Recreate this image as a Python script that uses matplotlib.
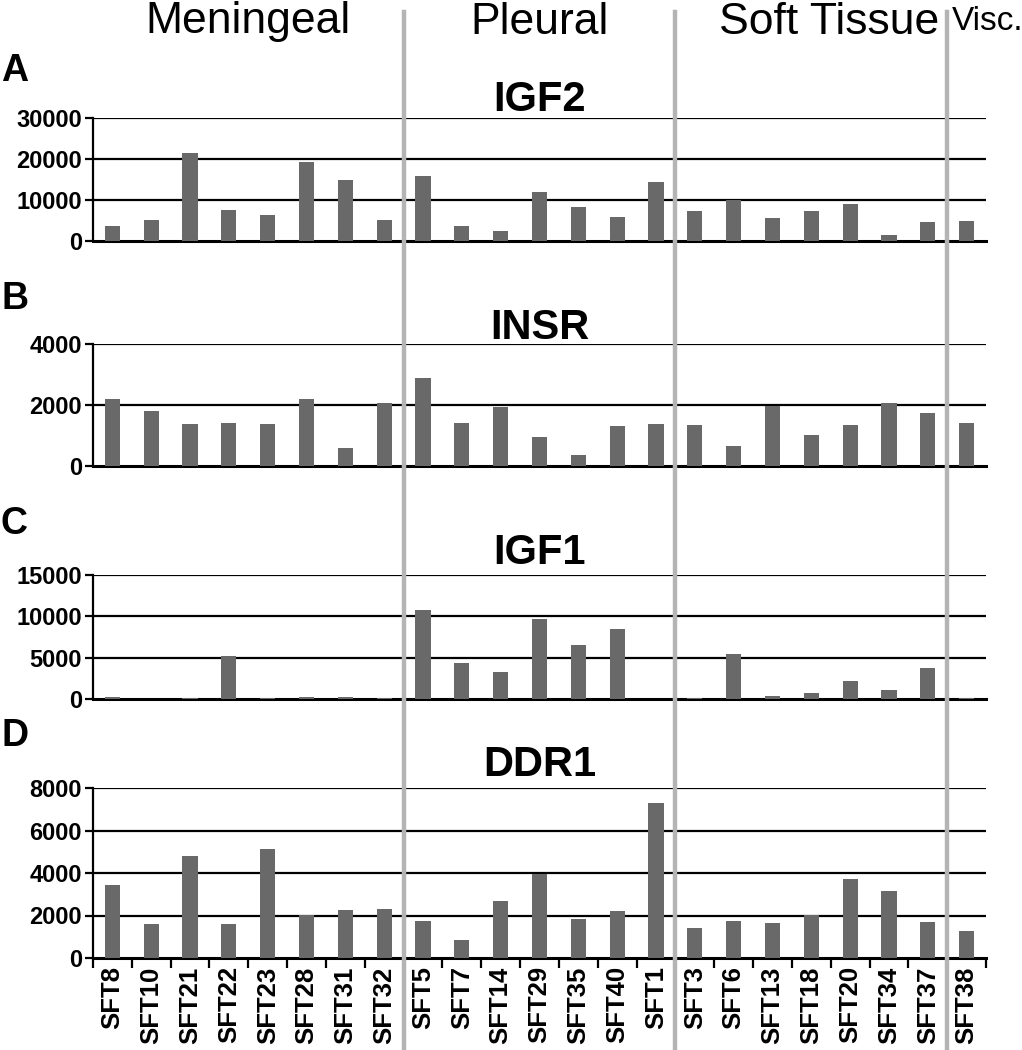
import matplotlib
matplotlib.use("Agg")
import matplotlib.pyplot as plt
from matplotlib.lines import Line2D
from matplotlib import transforms
import numpy as np

plt.rcParams['font.family'] = ['Liberation Sans', 'DejaVu Sans']

samples = ['SFT8', 'SFT10', 'SFT21', 'SFT22', 'SFT23', 'SFT28', 'SFT31', 'SFT32',
           'SFT5', 'SFT7', 'SFT14', 'SFT29', 'SFT35', 'SFT40', 'SFT1',
           'SFT3', 'SFT6', 'SFT13', 'SFT18', 'SFT20', 'SFT34', 'SFT37',
           'SFT38']
groups = ['Meningeal', 'Pleural', 'Soft Tissue', 'Visc.']
group_sizes = [8, 7, 7, 1]

igf2 = [3650, 5190, 21490, 7620, 6330, 19380, 14920, 5190,
        15900, 3730, 2350, 11920, 8350, 5840, 14270,
        7300, 9890, 5680, 7220, 9000, 1460, 4700,
        4870]
insr = [2182, 1807, 1366, 1410, 1366, 2204, 606, 2050,
        2887, 1421, 1928, 948, 375, 1311, 1366,
        1333, 672, 1961, 1003, 1344, 2072, 1741,
        1399]
igf1 = [283, 0, 120, 5175, 80, 283, 283, 80,
        10795, 4326, 3316, 9704, 6510, 8491, 0,
        100, 5459, 364, 687, 2143, 1132, 3760,
        80]
ddr1 = [3422, 1609, 4812, 1609, 5125, 2047, 2250, 2312,
        1750, 859, 2687, 3953, 1844, 2234, 7312,
        1422, 1750, 1641, 2016, 3703, 3172, 1672,
        1250]

panels = [
    ('A', 'IGF2', igf2, [0, 10000, 20000, 30000]),
    ('B', 'INSR', insr, [0, 2000, 4000]),
    ('C', 'IGF1', igf1, [0, 5000, 10000, 15000]),
    ('D', 'DDR1', ddr1, [0, 2000, 4000, 6000, 8000]),
]

W, H = 1022, 1050
fig = plt.figure(figsize=(W / 100, H / 100), dpi=100)

# axes boxes in pixels: (top, bottom)
boxes = [(118, 241), (344, 466), (575, 699), (788, 958)]
title_y = [100, 328, 553, 765]
letter_y = [71, 299, 524, 736]
left_px, right_px = 93, 986

x = np.arange(len(samples))
axes = []
for (letter, name, vals, ticks), (top, bot), ty, ly in zip(panels, boxes, title_y, letter_y):
    ax = fig.add_axes([left_px / W, 1 - bot / H, (right_px - left_px) / W, (bot - top) / H])
    ax.bar(x, vals, width=0.39, color='#696969', zorder=3)
    ax.set_xlim(-0.5, len(samples) - 0.5)
    ax.set_ylim(0, ticks[-1])
    ax.set_yticks(ticks)
    ax.set_yticklabels([str(t) for t in ticks], fontsize=17, fontweight='bold')
    for t in ticks[1:]:
        ax.axhline(t, color='black', lw=1.6, zorder=2)
    ax.spines['top'].set_visible(False)
    ax.spines['right'].set_visible(False)
    ax.spines['left'].set_linewidth(1.6)
    ax.spines['bottom'].set_linewidth(2.2)
    ax.tick_params(axis='y', length=6, width=1.6, pad=2)
    fig.text(0.5 * (left_px + right_px) / W, 1 - ty / H, name, ha='center', va='center',
             fontsize=30, fontweight='bold')
    fig.text(1 / W, 1 - ly / H, letter, ha='left', va='center',
             fontsize=27, fontweight='bold')
    axes.append(ax)

for ax in axes[:-1]:
    ax.set_xticks([])

axD = axes[-1]
axD.set_xticks(x)
axD.set_xticklabels(samples, rotation=90, fontsize=18.5, fontweight='bold')
axD.set_xticks(np.arange(len(samples) + 1) - 0.5, minor=True)
axD.tick_params(axis='x', which='major', length=0, pad=6)
axD.tick_params(axis='x', which='minor', length=7, width=1.6)

# group separators spanning the whole figure
bounds = np.cumsum(group_sizes)[:-1] - 0.5
trans = transforms.blended_transform_factory(axD.transData, fig.transFigure)
for b in bounds:
    fig.add_artist(Line2D([b, b], [0, 1 - 12 / H], transform=trans,
                          color='#b4b4b4', lw=3.2, zorder=10))

# group labels at the top
starts = np.concatenate([[0], np.cumsum(group_sizes)[:-1]])
nudge = {'Soft Tissue': 0.45}
for g, s, n in zip(groups, starts, group_sizes):
    if g == 'Visc.':
        fig.text(952 / W, 1 - 22 / H, g, ha='left', va='center', fontsize=24)
    else:
        cx = s + n / 2 - 0.5 + nudge.get(g, 0)
        fig.text(cx, 1 - 22 / H, g, ha='center', va='center', fontsize=32,
                 transform=trans)

fig.savefig('out.png', dpi=100)
